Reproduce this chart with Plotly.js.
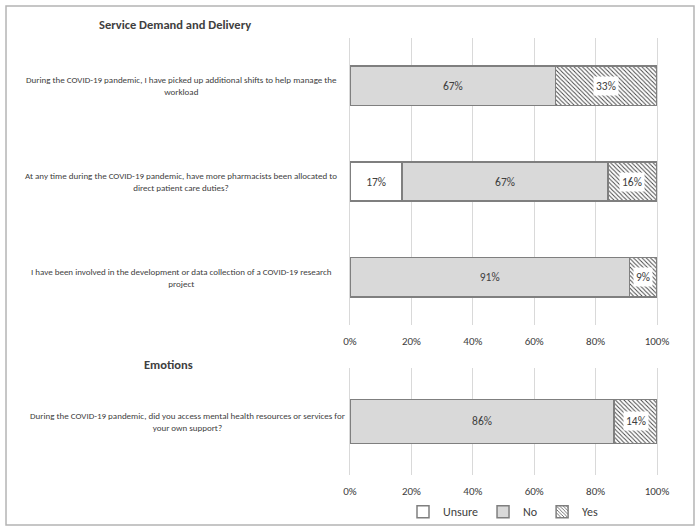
<!DOCTYPE html>
<html>
<head>
<meta charset="utf-8">
<script src="https://cdn.plot.ly/plotly-3.0.1.min.js"></script>
<style>html,body{margin:0;padding:0;background:#fff;}#chart{width:700px;height:532px;}</style>
</head>
<body>
<div id="chart"></div>
<script>
// ---- data ----
var sectionTitles = ["Service Demand and Delivery", "Emotions"];
var categoriesTop = [
  "During the COVID-19 pandemic, I have picked up additional shifts to help manage the<br>workload",
  "At any time during the COVID-19 pandemic, have more pharmacists been allocated to<br>direct patient care duties?",
  "I have been involved in the development or data collection of a COVID-19 research<br>project"
];
var unsureTop = [0, 17, 0];
var noTop = [67, 67, 91];
var yesTop = [33, 16, 9];

var categoriesBottom = [
  "During the COVID-19 pandemic, did you access mental health resources or services for<br>your own support?"
];
var unsureBottom = [0];
var noBottom = [86];
var yesBottom = [14];

var seriesNames = ["Unsure", "No", "Yes"];
var tickVals = [0, 20, 40, 60, 80, 100];
var tickText = ["0%", "20%", "40%", "60%", "80%", "100%"];

// ---- styling ----
var FONT = "Carlito, Calibri, Lato, sans-serif";
var TXT = "#404040";
var LINE = {color: "#7f7f7f", width: 1.5};
function lbl(arr){ return arr.map(function(v){ return v ? v + "%" : ""; }); }

function mkTraces(cats, un, no, yes, xa, ya, showleg){
  return [
    {type:"bar", orientation:"h", name:seriesNames[0], y:cats, x:un, xaxis:xa, yaxis:ya,
     legendgroup:"u", showlegend:showleg,
     marker:{color:"#ffffff", line:LINE},
     text:lbl(un), textposition:"inside", insidetextanchor:"middle",
     textfont:{family:FONT, size:11.5, color:TXT}, hoverinfo:"x+name"},
    {type:"bar", orientation:"h", name:seriesNames[1], y:cats, x:no, xaxis:xa, yaxis:ya,
     legendgroup:"n", showlegend:showleg,
     marker:{color:"#d9d9d9", line:LINE},
     text:lbl(no), textposition:"inside", insidetextanchor:"middle",
     textfont:{family:FONT, size:11.5, color:TXT}, hoverinfo:"x+name"},
    {type:"bar", orientation:"h", name:seriesNames[2], y:cats, x:yes, xaxis:xa, yaxis:ya,
     legendgroup:"y", showlegend:showleg,
     marker:{color:"#ffffff", line:LINE,
       pattern:{shape:"\\", fgcolor:"#404040", bgcolor:"#ffffff", size:3, solidity:0.3}},
     hoverinfo:"x+name"}
  ];
}

var data = mkTraces(categoriesTop, unsureTop, noTop, yesTop, "x", "y", true)
  .concat(mkTraces(categoriesBottom, unsureBottom, noBottom, yesBottom, "x2", "y2", false));

var annotations = [];
function yesLabels(cats, un, no, yes, xr, yr){
  cats.forEach(function(c, i){
    annotations.push({xref:xr, yref:yr, x:un[i] + no[i] + yes[i]/2, y:c,
      text:yes[i] + "%", showarrow:false, bgcolor:"#ffffff", borderpad:2,
      font:{family:FONT, size:11.5, color:TXT}});
  });
}
yesLabels(categoriesTop, unsureTop, noTop, yesTop, "x", "y");
yesLabels(categoriesBottom, unsureBottom, noBottom, yesBottom, "x2", "y2");

function catLabels(cats, yr, xpos){
  cats.forEach(function(c){
    annotations.push({xref:"paper", yref:yr, x:xpos, y:c, xanchor:"center",
      text:c, showarrow:false, align:"center",
      font:{family:FONT, size:9, color:TXT}});
  });
}
catLabels(categoriesTop, "y", -0.55);
catLabels(categoriesBottom, "y2", -0.528);

annotations.push({xref:"paper", yref:"paper", x:-0.57, y:1.03, xanchor:"center", yanchor:"middle",
  text:"<b>" + sectionTitles[0] + "</b>", showarrow:false, font:{family:FONT, size:12.5, color:TXT}});
annotations.push({xref:"paper", yref:"paper", x:-0.59, y:0.252, xanchor:"center", yanchor:"middle",
  text:"<b>" + sectionTitles[1] + "</b>", showarrow:false, font:{family:FONT, size:12.5, color:TXT}});

var xaxisBase = {range:[0,100], tickvals:tickVals, ticktext:tickText, showgrid:true,
  gridcolor:"#d9d9d9", gridwidth:1, zeroline:false, showline:false,
  ticks:"outside", ticklen:6, tickcolor:"rgba(0,0,0,0)", automargin:false,
  tickfont:{family:FONT, size:11, color:TXT}, fixedrange:true};
var yaxisBase = {autorange:"reversed", showticklabels:false, showgrid:false, zeroline:false,
  showline:true, mirror:true, linecolor:"#d9d9d9", linewidth:1, ticks:"", automargin:false};

var layout = {
  width:700, height:532,
  margin:{l:350, r:43, t:38, b:57},
  paper_bgcolor:"#ffffff", plot_bgcolor:"#ffffff",
  barmode:"stack", bargap:0.59,
  font:{family:FONT, color:TXT},
  xaxis:Object.assign({}, xaxisBase, {anchor:"y"}),
  yaxis:Object.assign({}, yaxisBase, {domain:[0.343, 1], anchor:"x"}),
  xaxis2:Object.assign({}, xaxisBase, {anchor:"y2"}),
  yaxis2:Object.assign({}, yaxisBase, {domain:[0, 0.245], anchor:"x2"}),
  legend:{orientation:"h", x:0.5, xanchor:"center", yref:"container", y:0.038, yanchor:"middle",
    bgcolor:"rgba(0,0,0,0)", itemwidth:30,
    font:{family:FONT, size:12, color:TXT}, traceorder:"normal"},
  annotations:annotations,
  shapes:[{type:"rect", xref:"paper", yref:"paper", x0:-1.1205, x1:1.1205, y0:-0.1144, y1:1.0732,
    line:{color:"#b4b4b4", width:1.5}, fillcolor:"rgba(0,0,0,0)", layer:"below"}],
  showlegend:true
};

Plotly.newPlot("chart", data, layout, {displayModeBar:false, staticPlot:true});
</script>
</body>
</html>
